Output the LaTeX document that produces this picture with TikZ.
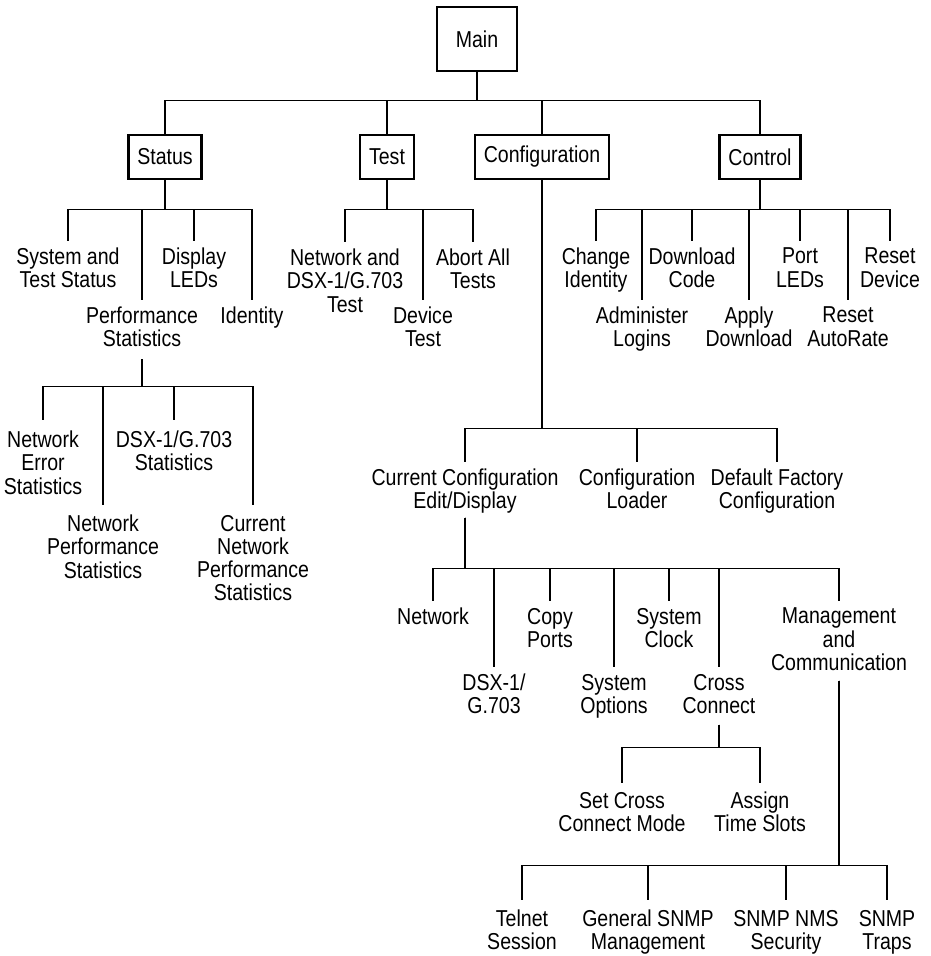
\documentclass[tikz,border=0pt]{standalone}
\usepackage{fontspec}
\setmainfont{Liberation Sans}[FakeStretch=0.85]
\usepackage{tikz}

\begin{document}
\begin{tikzpicture}[
  x=1pt,y=-1pt,
  every node/.style={font=\fontsize{23}{23.3}\selectfont},
  menubox/.style={draw,line width=2.6pt,minimum height=44pt,inner xsep=9pt,inner ysep=0pt},
  item/.style={align=center,inner sep=0pt,outer ysep=7pt,anchor=north},
  link/.style={line width=1.1pt}
]
\useasboundingbox (0,0) rectangle (931,956);

% top level
\node[menubox,minimum width=80pt,minimum height=64pt] (main) at (477,39) {Main};
\node[menubox] (status) at (165,157) {Status};
\node[menubox] (test) at (387,157) {Test};
\node[menubox] (config) at (542,157) {Configuration};
\node[menubox] (control) at (760,157) {Control};

% status menu
\node[item] (sysstat) at (68,241) {System and\\Test Status};
\node[item] (perf) at (142,300) {Performance\\Statistics};
\node[item] (leds) at (194,241) {Display\\LEDs};
\node[item] (ident) at (252,300) {Identity};

% performance statistics
\node[item,outer ysep=11pt] (neterr) at (43,420) {Network\\Error\\Statistics};
\node[item,outer ysep=10pt] (netperf) at (103,505) {Network\\Performance\\Statistics};
\node[item,outer ysep=11pt] (dsxstat) at (174,420) {DSX-1/G.703\\Statistics};
\node[item,outer ysep=10pt] (curperf) at (253,505) {Current\\Network\\Performance\\Statistics};

% test menu
\node[item] (nettest) at (345,242) {Network and\\DSX-1/G.703\\Test};
\node[item] (devtest) at (423,300) {Device\\Test};
\node[item] (abort) at (473,242) {Abort All\\Tests};

% control menu
\node[item] (chid) at (596,241) {Change\\Identity};
\node[item] (admin) at (642,300) {Administer\\Logins};
\node[item] (dlcode) at (692,241) {Download\\Code};
\node[item] (apply) at (749,300) {Apply\\Download};
\node[item] (portled) at (800,241) {Port\\LEDs};
\node[item] (autorate) at (848,300) {Reset\\AutoRate};
\node[item] (resetdev) at (890,241) {Reset\\Device};

% configuration menu
\node[item] (curconf) at (465,462) {Current Configuration\\Edit/Display};
\node[item] (loader) at (637,462) {Configuration\\Loader};
\node[item] (factory) at (777,462) {Default Factory\\Configuration};

% edit/display
\node[item] (network) at (433,601) {Network};
\node[item] (dsx) at (494,667) {DSX-1/\\G.703};
\node[item] (copy) at (550,601) {Copy\\Ports};
\node[item] (sysopt) at (614,667) {System\\Options};
\node[item] (clock) at (669,601) {System\\Clock};
\node[item] (cross) at (719,667) {Cross\\Connect};
\node[item] (mgmt) at (839,601) {Management\\and\\Communication};

% cross connect
\node[item,outer ysep=9pt] (setmode) at (622,783) {Set Cross\\Connect Mode};
\node[item,outer ysep=9pt] (slots) at (760,783) {Assign\\Time Slots};

% management and communication
\node[item,outer ysep=10pt] (telnet) at (522,900) {Telnet\\Session};
\node[item,outer ysep=10pt] (snmpgen) at (648,900) {General SNMP\\Management};
\node[item,outer ysep=10pt] (nms) at (786,900) {SNMP NMS\\Security};
\node[item,outer ysep=10pt] (traps) at (887,900) {SNMP\\Traps};

% tree lines
\foreach \c in {status,test,config,control} \draw[link] (main.south) -- ++(0,28) -| (\c.north);
\foreach \c in {sysstat,perf,leds,ident} \draw[link] (status.south) -- ++(0,29) -| (\c.north);
\foreach \c in {nettest,devtest,abort} \draw[link] (test.south) -- ++(0,29) -| (\c.north);
\foreach \c in {chid,admin,dlcode,apply,portled,autorate,resetdev} \draw[link] (control.south) -- ++(0,29) -| (\c.north);
\foreach \c in {curconf,loader,factory} \draw[link] (config.south) -- ++(0,248) -| (\c.north);
\foreach \c in {neterr,netperf,dsxstat,curperf} \draw[link] (perf.south) ++(0,5) -- ++(0,27) -| (\c.north);
\foreach \c in {network,dsx,copy,sysopt,clock,cross,mgmt} \draw[link] (curconf.south) ++(0,-3) -- ++(0,51) -| (\c.north);
\foreach \c in {setmode,slots} \draw[link] (cross.south) ++(0,4) -- ++(0,23) -| (\c.north);
\foreach \c in {telnet,snmpgen,nms,traps} \draw[link] (mgmt.south) ++(0,3) -- ++(0,185) -| (\c.north);
\end{tikzpicture}
\end{document}
